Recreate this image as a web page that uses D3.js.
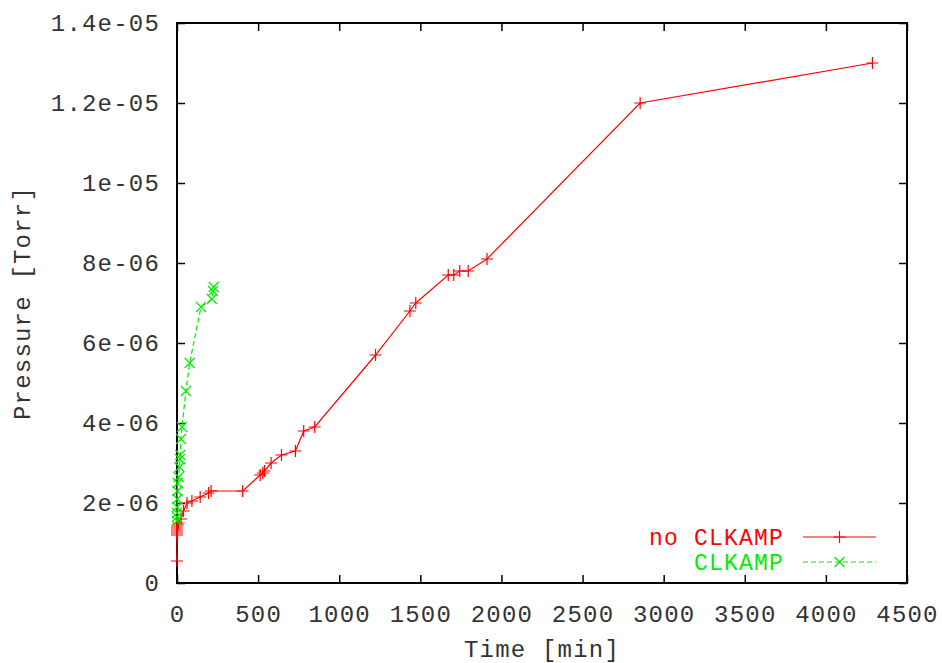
<!DOCTYPE html>
<html>
<head>
<meta charset="utf-8">
<script src="https://cdn.jsdelivr.net/npm/d3@7"></script>
<style>
  body { margin: 0; background: #fff; }
  text { font-family: "Liberation Mono", "DejaVu Sans Mono", monospace; letter-spacing: 1.2px; }
</style>
</head>
<body>
<svg id="drawing_region"></svg>
<script>
// no CLKAMP run: time [min], pressure [1e-6 Torr]
const redTime = [0, 0, 0, 0, 0, 0, 5, 10, 25, 40, 62, 92, 143, 195, 210,
    405, 513, 529, 539, 580, 644, 730, 781, 849, 1224, 1436, 1472,
    1672, 1706, 1743, 1795, 1911, 2855, 4287];
const redPressure = [0.55, 1.2, 1.25, 1.3, 1.35, 1.4, 1.45, 1.5, 1.6, 1.8, 2.0, 2.05, 2.15, 2.25, 2.3,
    2.3, 2.7, 2.75, 2.8, 3.0, 3.2, 3.3, 3.8, 3.9, 5.7, 6.8, 7.0,
    7.7, 7.7, 7.8, 7.8, 8.1, 12.0, 13.0];

// CLKAMP run
const greenTime = [0, 0, 0, 0, 2, 3, 5, 10, 15, 18, 20, 25, 31, 55, 78, 148, 215, 222, 226];
const greenPressure = [1.55, 1.65, 1.75, 1.9, 2.1, 2.3, 2.5, 2.65, 2.9, 3.1, 3.2, 3.6, 3.9, 4.8, 5.5, 6.9, 7.1, 7.3, 7.4];

const xTicks = [0, 500, 1000, 1500, 2000, 2500, 3000, 3500, 4000, 4500];
const yTicks = [0, 2e-6, 4e-6, 6e-6, 8e-6, 1e-5, 1.2e-5, 1.4e-5];
const yTickLabels = ["0", "2e-06", "4e-06", "6e-06", "8e-06", "1e-05", "1.2e-05", "1.4e-05"];

const seriesNames = ["no CLKAMP", "CLKAMP"];
const seriesColors = ["#ff0000", "#00ee00"];

const config = {
    width: 942,
    height: 663,
    margin: {top: 23, right: 35, bottom: 80, left: 177}
};

const svg = d3.select('#drawing_region')
    .attr('width', config.width)
    .attr('height', config.height);

const inner_width = config.width - config.margin.left - config.margin.right;
const inner_height = config.height - config.margin.top - config.margin.bottom;

const chart = svg.append('g')
    .attr('transform', `translate(${config.margin.left}, ${config.margin.top})`);

const xscale = d3.scaleLinear().domain([0, 4500]).range([0, inner_width]);
const yscale = d3.scaleLinear().domain([0, 1.4e-5]).range([inner_height, 0]);

// ticks, inward on all four sides (gnuplot style)
const tickLen = 8;
const axisStyle = g => {
    g.select('.domain').remove();
    g.selectAll('.tick line').attr('stroke', '#000').attr('stroke-width', 1.5);
    g.selectAll('.tick text')
        .attr('fill', '#333')
        .style('font-size', '24px');
};

chart.append('g')
    .attr('transform', `translate(0, ${inner_height})`)
    .call(d3.axisBottom(xscale).tickValues(xTicks).tickSize(-tickLen).tickPadding(22)
        .tickFormat(d3.format('d')))
    .call(axisStyle);

chart.append('g')
    .call(d3.axisTop(xscale).tickValues(xTicks).tickSize(-tickLen).tickFormat(''))
    .call(axisStyle);

chart.append('g')
    .call(d3.axisLeft(yscale).tickValues(yTicks).tickSize(-tickLen).tickPadding(17)
        .tickFormat((d, i) => yTickLabels[i]))
    .call(axisStyle);

chart.append('g')
    .attr('transform', `translate(${inner_width}, 0)`)
    .call(d3.axisRight(yscale).tickValues(yTicks).tickSize(-tickLen).tickFormat(''))
    .call(axisStyle);

// frame
chart.append('rect')
    .attr('width', inner_width)
    .attr('height', inner_height)
    .attr('fill', 'none')
    .attr('stroke', '#000')
    .attr('stroke-width', 2);

// axis titles
svg.append('text')
    .attr('x', config.margin.left + inner_width / 2)
    .attr('y', 657)
    .attr('text-anchor', 'middle')
    .attr('fill', '#333')
    .style('font-size', '24px')
    .text('Time [min]');

svg.append('text')
    .attr('transform', 'rotate(-90)')
    .attr('x', -(config.margin.top + inner_height / 2))
    .attr('y', 30)
    .attr('text-anchor', 'middle')
    .attr('fill', '#333')
    .style('font-size', '24px')
    .text('Pressure [Torr]');

// series
const series = [
    {time: redTime, pressure: redPressure, dash: null, marker: 'plus'},
    {time: greenTime, pressure: greenPressure, dash: '5,3', marker: 'cross'}
];

const line = d3.line()
    .x(d => xscale(d[0]))
    .y(d => yscale(d[1] * 1e-6));

const markerPath = (type, s) => type === 'plus'
    ? `M${-s},0H${s}M0,${-s}V${s}`
    : `M${-s},${-s}L${s},${s}M${-s},${s}L${s},${-s}`;

series.forEach((s, i) => {
    const pts = s.time.map((t, j) => [t, s.pressure[j]]);
    chart.append('path')
        .datum(pts)
        .attr('fill', 'none')
        .attr('stroke', seriesColors[i])
        .attr('stroke-width', 1.2)
        .attr('stroke-dasharray', s.dash)
        .attr('d', line);

    chart.append('g').selectAll('path')
        .data(pts)
        .enter()
        .append('path')
        .attr('transform', d => `translate(${xscale(d[0])}, ${yscale(d[1] * 1e-6)})`)
        .attr('d', markerPath(s.marker, s.marker === 'plus' ? 6 : 5))
        .attr('stroke', seriesColors[i])
        .attr('stroke-width', 1.2)
        .attr('fill', 'none');
});

// legend
const legend = svg.append('g');
series.forEach((s, i) => {
    const y = 537 + i * 25;
    legend.append('text')
        .attr('x', 784)
        .attr('y', y)
        .attr('dy', '0.33em')
        .attr('text-anchor', 'end')
        .attr('fill', seriesColors[i])
        .style('font-size', '23px')
        .text(seriesNames[i]);
    legend.append('line')
        .attr('x1', 803).attr('x2', 876)
        .attr('y1', y).attr('y2', y)
        .attr('stroke', seriesColors[i])
        .attr('stroke-width', 1.2)
        .attr('stroke-dasharray', s.dash);
    legend.append('path')
        .attr('transform', `translate(839.5, ${y})`)
        .attr('d', markerPath(s.marker, s.marker === 'plus' ? 6 : 5))
        .attr('stroke', seriesColors[i])
        .attr('stroke-width', 1.2);
});
</script>
</body>
</html>
